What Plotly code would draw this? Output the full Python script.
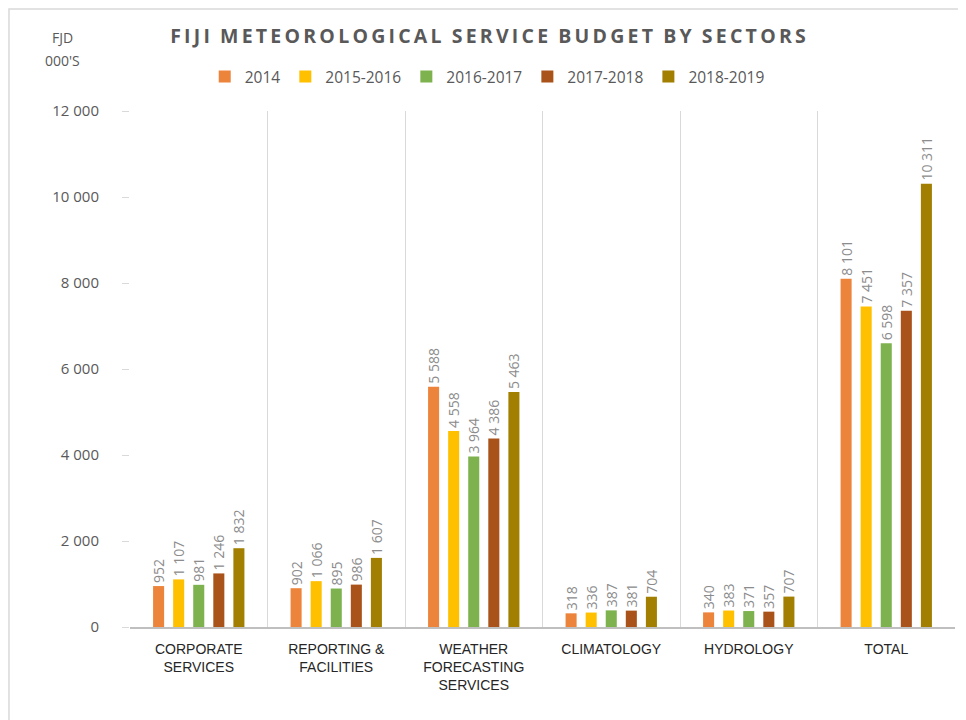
import plotly.graph_objects as go

categories = ["CORPORATE<br>SERVICES", "REPORTING &<br>FACILITIES", "WEATHER<br>FORECASTING<br>SERVICES",
              "CLIMATOLOGY", "HYDROLOGY", "TOTAL"]
series_names = ["2014", "2015-2016", "2016-2017", "2017-2018", "2018-2019"]
values_2014 = [952, 902, 5588, 318, 340, 8101]
values_2015_2016 = [1107, 1066, 4558, 336, 383, 7451]
values_2016_2017 = [981, 895, 3964, 387, 371, 6598]
values_2017_2018 = [1246, 986, 4386, 381, 357, 7357]
values_2018_2019 = [1832, 1607, 5463, 704, 707, 10311]
colors = ["#ED843B", "#FFC000", "#7EB24F", "#A9531A", "#A27F00"]
y_ticks = [0, 2000, 4000, 6000, 8000, 10000, 12000]
title_text = "FIJI METEOROLOGICAL SERVICE BUDGET BY SECTORS"

all_values = [values_2014, values_2015_2016, values_2016_2017, values_2017_2018, values_2018_2019]
xpos = list(range(len(categories)))

def fmt(v):
    return f"{v:,}".replace(",", " ")

# letter-spaced title (thin spaces between letters)
spaced_title = "  ".join("\u2009".join(word) for word in title_text.split(" "))

fig = go.Figure()
for name, vals, col in zip(series_names, all_values, colors):
    fig.add_trace(go.Bar(
        x=xpos, y=vals, name=name, marker=dict(color=col, line=dict(width=0)),
        text=[fmt(v) for v in vals], textposition="outside", textangle=-90,
        constraintext="none",
        textfont=dict(family="Open Sans", size=14, color="#8C8C8C"),
        cliponaxis=False,
    ))

# invisible trace to carry category-boundary gridlines on a secondary x axis
fig.add_trace(go.Scatter(x=[-0.5, len(categories) - 0.5], y=[0, 0], xaxis="x2",
                         mode="lines", line=dict(width=0), showlegend=False, hoverinfo="skip"))

fig.update_layout(
    width=958, height=712,
    paper_bgcolor="white", plot_bgcolor="white",
    margin=dict(l=122, r=11, t=103, b=93),
    separators=". ",
    barmode="group", bargap=0.27, bargroupgap=0.45,
    font=dict(family="Open Sans", color="#595959"),
    title=dict(text=spaced_title,
               font=dict(family="Open Sans", size=19.5, color="#595959", weight="bold"),
               x=0.501, xanchor="center", y=0.9607, yanchor="middle"),
    legend=dict(orientation="h", x=0.433, xanchor="center", y=1.066, yanchor="middle",
                font=dict(family="Open Sans", size=15.5, color="#595959"),
                itemwidth=30, traceorder="normal"),
    xaxis=dict(range=[-0.5, len(categories) - 0.5], tickvals=xpos, ticktext=categories,
               showgrid=False, showline=True, linecolor="#BFBFBF", linewidth=1.5,
               ticks="", ticklabelstandoff=8,
               tickfont=dict(family="Liberation Sans Narrow, Arial Narrow, Liberation Sans", size=14, color="#262626"),
               zeroline=False),
    xaxis2=dict(range=[-0.5, len(categories) - 0.5], overlaying="x", side="bottom",
                tickvals=[i - 0.5 for i in range(len(categories) + 1)], showticklabels=False,
                showgrid=True, gridcolor="#D9D9D9", gridwidth=1, ticks="", zeroline=False, showline=False),
    yaxis=dict(range=[0, 12000], tickvals=y_ticks, tickformat=",d", showgrid=False,
               ticks="outside", ticklen=7, tickcolor="#D9D9D9", ticklabelstandoff=20,
               tickfont=dict(family="Open Sans", size=15, color="#595959"),
               zeroline=False, showline=False),
    annotations=[
        dict(text="FJD", xref="paper", yref="paper", x=-0.0824, y=1.1434,
             xanchor="center", yanchor="middle", showarrow=False,
             font=dict(family="Open Sans", size=14, color="#595959")),
        dict(text="000'S", xref="paper", yref="paper", x=-0.0824, y=1.0988,
             xanchor="center", yanchor="middle", showarrow=False,
             font=dict(family="Open Sans", size=14, color="#595959")),
    ],
    shapes=[dict(type="rect", xref="paper", yref="paper", x0=-0.1467, x1=1.2, y0=-0.3, y1=1.1976,
                 line=dict(color="#D9D9D9", width=1.5), fillcolor="rgba(0,0,0,0)", layer="below")],
)

fig.write_html("out.html")
